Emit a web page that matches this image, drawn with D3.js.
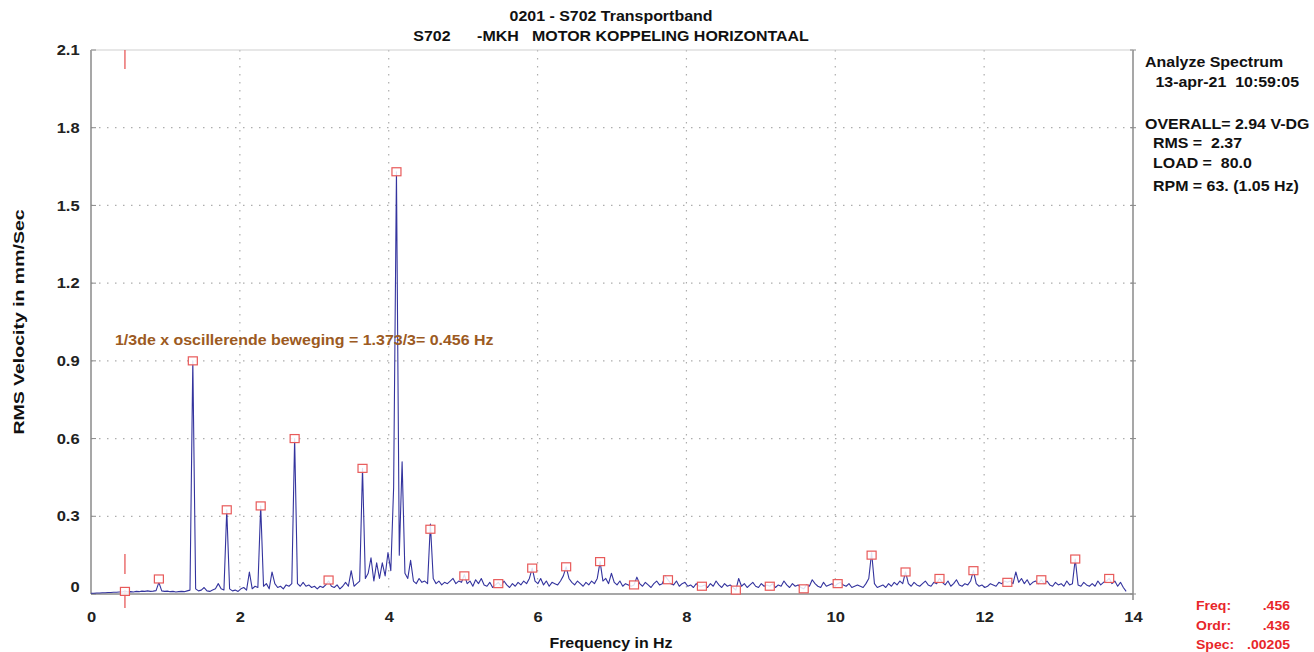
<!DOCTYPE html>
<html>
<head>
<meta charset="utf-8">
<script src="https://cdn.jsdelivr.net/npm/d3@7"></script>
<style>
  body { margin: 0; background: #fff; }
  text { font-family: "Liberation Sans", Arial, sans-serif; font-weight: bold; }
</style>
</head>
<body>
<svg id="chart" width="1314" height="652"></svg>
<script>
// spectrum, one value per bin (bin width = 0.456/12 Hz)
const binWidth = 0.038
const spectrum = [
  0.003,0.003,0.004,0.004,0.005,0.005,0.006,0.006,0.007,0.007,0.008,0.008,
  0.010,0.008,0.009,0.008,0.010,0.009,0.011,0.010,0.012,0.010,0.011,0.013,
  0.045,0.012,0.010,0.011,0.009,0.010,0.008,0.009,0.010,0.009,0.012,0.015,
  0.900,0.020,0.012,0.015,0.025,0.012,0.010,0.015,0.020,0.040,0.020,0.015,
  0.325,0.020,0.012,0.015,0.010,0.020,0.025,0.015,0.085,0.020,0.030,0.025,
  0.340,0.030,0.040,0.020,0.085,0.040,0.025,0.030,0.020,0.035,0.030,0.040,
  0.600,0.040,0.030,0.045,0.030,0.035,0.025,0.030,0.020,0.030,0.025,0.035,
  0.050,0.030,0.025,0.035,0.020,0.030,0.045,0.030,0.090,0.030,0.040,0.050,
  0.485,0.060,0.080,0.140,0.050,0.120,0.060,0.120,0.070,0.160,0.090,0.410,
  1.630,0.150,0.510,0.080,0.060,0.130,0.050,0.040,0.060,0.045,0.050,0.040,
  0.270,0.060,0.040,0.050,0.035,0.045,0.040,0.050,0.060,0.040,0.050,0.045,
  0.075,0.040,0.050,0.030,0.055,0.040,0.060,0.035,0.030,0.045,0.025,0.035,
  0.045,0.030,0.050,0.035,0.025,0.040,0.030,0.045,0.035,0.050,0.040,0.060,
  0.100,0.050,0.040,0.060,0.035,0.050,0.030,0.045,0.040,0.035,0.050,0.070,
  0.105,0.060,0.045,0.035,0.050,0.040,0.030,0.045,0.035,0.050,0.040,0.060,
  0.125,0.050,0.060,0.040,0.080,0.045,0.035,0.050,0.030,0.040,0.035,0.030,
  0.035,0.065,0.040,0.030,0.045,0.035,0.025,0.040,0.050,0.035,0.040,0.070,
  0.055,0.040,0.035,0.050,0.030,0.040,0.045,0.030,0.035,0.025,0.040,0.030,
  0.030,0.035,0.025,0.040,0.030,0.050,0.035,0.025,0.040,0.030,0.035,0.025,
  0.015,0.060,0.030,0.040,0.025,0.035,0.045,0.030,0.025,0.040,0.030,0.035,
  0.030,0.040,0.025,0.035,0.030,0.050,0.035,0.025,0.040,0.030,0.035,0.025,
  0.020,0.035,0.030,0.055,0.040,0.030,0.025,0.045,0.030,0.035,0.040,0.030,
  0.040,0.045,0.035,0.030,0.040,0.025,0.030,0.035,0.030,0.025,0.040,0.060,
  0.160,0.040,0.025,0.030,0.035,0.025,0.040,0.030,0.045,0.035,0.050,0.040,
  0.085,0.040,0.030,0.045,0.035,0.030,0.040,0.050,0.035,0.030,0.045,0.040,
  0.060,0.045,0.035,0.050,0.030,0.040,0.055,0.035,0.030,0.040,0.035,0.050,
  0.090,0.040,0.030,0.035,0.025,0.030,0.040,0.035,0.030,0.045,0.040,0.050,
  0.045,0.050,0.040,0.085,0.045,0.060,0.040,0.055,0.035,0.045,0.050,0.040,
  0.055,0.040,0.050,0.035,0.030,0.045,0.035,0.040,0.030,0.050,0.035,0.040,
  0.135,0.035,0.030,0.045,0.035,0.030,0.040,0.030,0.050,0.035,0.045,0.050,
  0.060,0.040,0.050,0.030,0.045,0.025,0.010
]

// harmonic markers of 0.456 Hz
const cursorFreq = 0.456
const markerValues = [
  0.010, 0.058, 0.900, 0.325, 0.340, 0.600, 0.054, 0.485, 1.630, 0.250,
  0.070, 0.040, 0.100, 0.105, 0.125, 0.035, 0.055, 0.030, 0.015, 0.030,
  0.020, 0.040, 0.150, 0.085, 0.060, 0.090, 0.045, 0.055, 0.135, 0.060
]

const xTicks = [0, 2, 4, 6, 8, 10, 12, 14]
const yTicks = [0, 0.3, 0.6, 0.9, 1.2, 1.5, 1.8, 2.1]

const titleLines = ["0201 - S702 Transportband", "S702      -MKH   MOTOR KOPPELING HORIZONTAAL"]
const infoLines = [
  {t: "Analyze Spectrum", dx: 0, y: 67},
  {t: " 13-apr-21  10:59:05", dx: 6, y: 87},
  {t: "OVERALL= 2.94 V-DG", dx: 0, y: 129},
  {t: "RMS =  2.37", dx: 8, y: 148},
  {t: "LOAD =  80.0", dx: 8, y: 168},
  {t: "RPM = 63. (1.05 Hz)", dx: 8, y: 191}
]
const cursorLabels = [["Freq:", ".456"], ["Ordr:", ".436"], ["Spec:", ".00205"]]

const svg = d3.select("#chart")
const margin = {top: 50, right: 181, bottom: 58, left: 91}
const width = 1314 - margin.left - margin.right
const height = 652 - margin.top - margin.bottom

const x = d3.scaleLinear().domain([0, 14]).range([margin.left, margin.left + width])
const y = d3.scaleLinear().domain([0, 2.1]).range([margin.top + height, margin.top])

const axisColor = "#8a8a8a"
const stretch = 1.14   // the source text is a bit wide

function place(sel, px, py) {
  return sel.attr("transform", `translate(${px},${py}) scale(${stretch},1)`)
}

// grid
svg.append("g").selectAll("line")
  .data(yTicks.filter(d => d > 0 && d < 2.1))
  .join("line")
  .attr("x1", x(0)).attr("x2", x(14))
  .attr("y1", d => y(d)).attr("y2", d => y(d))
  .attr("stroke", "#adadad").attr("stroke-width", 1.2).attr("stroke-dasharray", "1.5,6.5")

svg.append("g").selectAll("line")
  .data(xTicks.filter(d => d > 0 && d < 14))
  .join("line")
  .attr("x1", d => x(d)).attr("x2", d => x(d))
  .attr("y1", y(2.1)).attr("y2", y(0))
  .attr("stroke", "#adadad").attr("stroke-width", 1.2).attr("stroke-dasharray", "1.5,6.5")

// frame
svg.append("line").attr("x1", x(0)).attr("x2", x(0)).attr("y1", y(2.1)).attr("y2", y(0))
  .attr("stroke", axisColor).attr("stroke-width", 1.5)
svg.append("line").attr("x1", x(14)).attr("x2", x(14)).attr("y1", y(2.1)).attr("y2", y(0) + 6)
  .attr("stroke", axisColor).attr("stroke-width", 1.5)
svg.append("line").attr("x1", x(0)).attr("x2", x(14)).attr("y1", y(2.1)).attr("y2", y(2.1))
  .attr("stroke", "#cfcfcf").attr("stroke-width", 1)
svg.append("line").attr("x1", x(0)).attr("x2", x(14)).attr("y1", y(0)).attr("y2", y(0))
  .attr("stroke", axisColor).attr("stroke-width", 1.5)

// axes
const yAxis = d3.axisLeft(y).tickValues(yTicks).tickSize(0).tickPadding(10)
  .tickFormat(d => d === 0 ? "0" : d3.format(".1f")(d))
const gy = svg.append("g").attr("transform", `translate(${x(0)},0)`).call(yAxis)
gy.select(".domain").remove()
gy.selectAll("text").style("font-size", "14.5px").attr("fill", "#222")
  .attr("transform", `scale(${stretch},1)`)
gy.selectAll(".tick").filter(d => d === 0).select("text").attr("dy", "-0.2em")

svg.append("g").selectAll("line")
  .data(yTicks)
  .join("line")
  .attr("x1", x(0)).attr("x2", x(0) + 5)
  .attr("y1", d => y(d)).attr("y2", d => y(d))
  .attr("stroke", axisColor)
svg.append("g").selectAll("line")
  .data(yTicks)
  .join("line")
  .attr("x1", x(14) - 3).attr("x2", x(14) + 3)
  .attr("y1", d => y(d)).attr("y2", d => y(d))
  .attr("stroke", axisColor)

const xAxis = d3.axisBottom(x).tickValues(xTicks).tickSize(0).tickPadding(18)
const gx = svg.append("g").attr("transform", `translate(0,${y(0)})`).call(xAxis)
gx.select(".domain").remove()
gx.selectAll("text").style("font-size", "14.5px").attr("fill", "#222")
  .attr("transform", `scale(${stretch},1)`)

// spectrum trace
const line = d3.line()
  .x((d, i) => x(i * binWidth))
  .y(d => y(d))
svg.append("path")
  .datum(spectrum)
  .attr("d", line)
  .attr("fill", "none")
  .attr("stroke", "#34349e")
  .attr("stroke-width", 1.1)
  .attr("stroke-linejoin", "round")

// cursor
const cx = x(cursorFreq)
const cursorColor = "#e85a5a"
svg.append("line").attr("x1", cx).attr("x2", cx).attr("y1", y(2.1)).attr("y2", y(2.1) + 19)
  .attr("stroke", cursorColor).attr("stroke-width", 1.3)
svg.append("line").attr("x1", cx).attr("x2", cx).attr("y1", y(0) - 40).attr("y2", y(0) - 20)
  .attr("stroke", cursorColor).attr("stroke-width", 1.3)
svg.append("line").attr("x1", cx).attr("x2", cx).attr("y1", y(0) - 4).attr("y2", y(0) + 14)
  .attr("stroke", cursorColor).attr("stroke-width", 1.3)

// harmonic markers
svg.append("g").selectAll("rect")
  .data(markerValues)
  .join("rect")
  .attr("x", (d, i) => x(cursorFreq * (i + 1)) - 4.5)
  .attr("y", d => y(d) - 4)
  .attr("width", 9).attr("height", 8)
  .attr("fill", "#fff").attr("fill-opacity", 0.85)
  .attr("stroke", cursorColor).attr("stroke-width", 1.2)

// annotation
place(svg.append("text"), 115, 345)
  .attr("fill", "#9c5a22")
  .style("font-size", "14px")
  .text("1/3de x oscillerende beweging = 1.373/3= 0.456 Hz")

// titles
svg.append("g").selectAll("text")
  .data(titleLines)
  .join("text")
  .attr("transform", (d, i) => `translate(611,${21 + i * 20}) scale(${stretch},1)`)
  .attr("text-anchor", "middle")
  .attr("fill", "#111")
  .style("font-size", "14px")
  .style("white-space", "pre")
  .text(d => d)

svg.append("text")
  .attr("transform", `translate(24,${(y(0) + y(2.1)) / 2}) rotate(-90) scale(1.3,1)`)
  .attr("text-anchor", "middle")
  .attr("fill", "#111")
  .style("font-size", "15px")
  .text("RMS Velocity in mm/Sec")

place(svg.append("text"), 611, 648)
  .attr("text-anchor", "middle")
  .attr("fill", "#111")
  .style("font-size", "14px")
  .text("Frequency in Hz")

// info panel
svg.append("g").selectAll("text")
  .data(infoLines)
  .join("text")
  .attr("transform", d => `translate(${1145 + d.dx},${d.y}) scale(${stretch},1)`)
  .attr("fill", "#111")
  .style("font-size", "14px")
  .style("white-space", "pre")
  .text(d => d.t)

// cursor readout
const ro = svg.append("g").attr("fill", "#e8262a").style("font-size", "13px")
ro.selectAll("text.k")
  .data(cursorLabels)
  .join("text").attr("class", "k")
  .attr("transform", (d, i) => `translate(1196,${610 + i * 19.5}) scale(1.08,1)`)
  .text(d => d[0])
ro.selectAll("text.v")
  .data(cursorLabels)
  .join("text").attr("class", "v")
  .attr("transform", (d, i) => `translate(1290,${610 + i * 19.5}) scale(1.08,1)`)
  .attr("text-anchor", "end")
  .text(d => d[1])
</script>
</body>
</html>
